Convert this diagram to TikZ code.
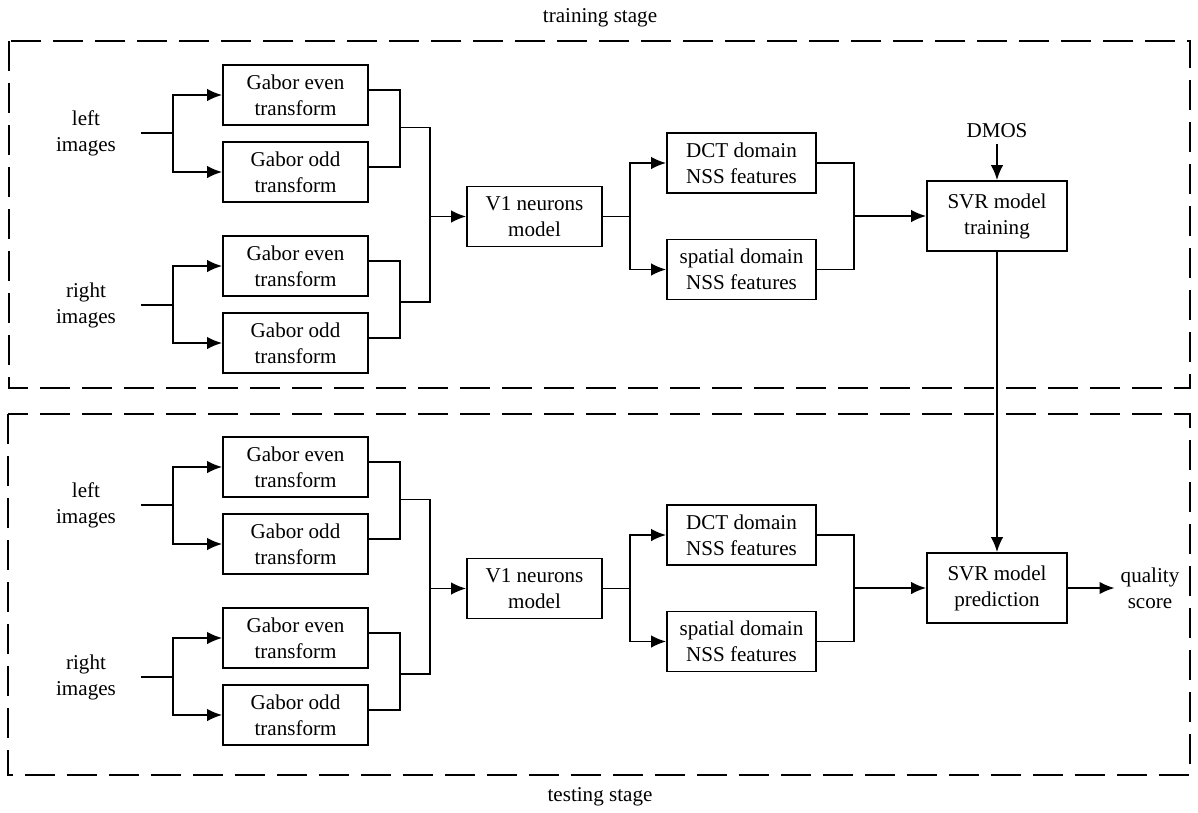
\documentclass[tikz,border=0pt]{standalone}
\usepackage{fontspec}
\setmainfont{Liberation Serif}
\usepackage{tikz}
\usetikzlibrary{arrows.meta,calc,positioning}

\tikzset{
  blk/.style={draw, line width=1pt, minimum width=2.9cm, minimum height=1.2cm,
    align=center, inner sep=1pt, font=\fontsize{12}{14.8}\selectfont},
  lbl/.style={align=center, font=\fontsize{12}{14.8}\selectfont},
  wire/.style={line width=1pt},
  arr/.style={-{Latex[length=3mm,width=2.5mm]}, line width=1pt},
  stage/.style={dash pattern=on 6mm off 2.4mm, line width=1pt}
}

\begin{document}
\begin{tikzpicture}
        \useasboundingbox (0,0) rectangle (23.96,-16.24);
        % Stage frames
        \draw[stage] (0.18,-0.82) rectangle (23.8,-7.76);
        \draw[stage] (0.16,-8.28) rectangle (23.8,-15.5);
        \node[lbl] (trn) at (12.0,-0.36) {training stage};
        \node[lbl] (tst) at (12.0,-15.94) {testing stage};
        % ---------------- training stage ----------------
        \node[lbl] (tleft) at (1.72,-2.66) {left\\images};
        \node[lbl] (tright) at (1.72,-6.1) {right\\images};
        \node[blk] (tge1) at (5.91,-1.9) {Gabor even\\transform};
        \node[blk] (tgo1) at (5.91,-3.44) {Gabor odd\\transform};
        \node[blk] (tge2) at (5.91,-5.32) {Gabor even\\transform};
        \node[blk] (tgo2) at (5.91,-6.86) {Gabor odd\\transform};
        \node[blk, minimum width=2.7cm] (tv1) at (10.69,-4.33) {V1 neurons\\model};
        \node[blk, minimum width=2.98cm] (tdct) at (14.83,-3.26) {DCT domain\\NSS features};
        \node[blk, minimum width=2.98cm] (tspa) at (14.83,-5.39) {spatial domain\\NSS features};
        \node[blk, minimum width=2.8cm, minimum height=1.4cm] (tsvr) at (19.94,-4.32) {SVR model\\training};
        \node[lbl] (dmos) at (19.94,-2.62) {DMOS};
        \coordinate (tin1) at (2.82,-2.66);
        \coordinate (tin2) at (2.82,-6.1);
        % inputs to Gabor filters
        \draw[wire] (tin1) -- (3.46,-2.66);
        \draw[arr] (3.46,-2.66) |- (tge1.west);
        \draw[arr] (3.46,-2.66) |- (tgo1.west);
        \draw[wire] (tin2) -- (3.46,-6.1);
        \draw[arr] (3.46,-6.1) |- (tge2.west);
        \draw[arr] (3.46,-6.1) |- (tgo2.west);
        % merge into V1 model
        \draw[wire] ([yshift=1mm]tge1.east) -| (8.0,-2.55) |- ([yshift=1mm]tgo1.east);
        \draw[wire] ([yshift=1mm]tge2.east) -| (8.0,-6.0) |- ([yshift=1mm]tgo2.east);
        \draw[wire] (8.0,-2.55) -| (8.6,-6.04) -- (8.0,-6.04);
        \draw[arr] (8.6,-4.33) -- (tv1.west);
        % NSS features
        \draw[wire] (tv1.east) -- (12.6,-4.33);
        \draw[arr] (12.6,-4.33) |- (tdct.west);
        \draw[arr] (12.6,-4.33) |- (tspa.west);
        \draw[wire] (tdct.east) -| (17.08,-4.32) |- (tspa.east);
        \draw[arr] (17.08,-4.32) -- (tsvr.west);
        \draw[arr] (dmos.south) -- (tsvr.north);
        % ---------------- testing stage ----------------
        \node[lbl] (bleft) at (1.72,-10.1) {left\\images};
        \node[lbl] (bright) at (1.72,-13.54) {right\\images};
        \node[blk] (bge1) at (5.91,-9.34) {Gabor even\\transform};
        \node[blk] (bgo1) at (5.91,-10.88) {Gabor odd\\transform};
        \node[blk] (bge2) at (5.91,-12.76) {Gabor even\\transform};
        \node[blk] (bgo2) at (5.91,-14.3) {Gabor odd\\transform};
        \node[blk, minimum width=2.7cm] (bv1) at (10.69,-11.77) {V1 neurons\\model};
        \node[blk, minimum width=2.98cm] (bdct) at (14.83,-10.7) {DCT domain\\NSS features};
        \node[blk, minimum width=2.98cm] (bspa) at (14.83,-12.83) {spatial domain\\NSS features};
        \node[blk, minimum width=2.8cm, minimum height=1.4cm] (bsvr) at (19.94,-11.76) {SVR model\\prediction};
        \node[lbl] (qual) at (23.0,-11.76) {quality\\score};
        \coordinate (bin1) at (2.82,-10.1);
        \coordinate (bin2) at (2.82,-13.54);
        % inputs to Gabor filters
        \draw[wire] (bin1) -- (3.46,-10.1);
        \draw[arr] (3.46,-10.1) |- (bge1.west);
        \draw[arr] (3.46,-10.1) |- (bgo1.west);
        \draw[wire] (bin2) -- (3.46,-13.54);
        \draw[arr] (3.46,-13.54) |- (bge2.west);
        \draw[arr] (3.46,-13.54) |- (bgo2.west);
        % merge into V1 model
        \draw[wire] ([yshift=1mm]bge1.east) -| (8.0,-9.99) |- ([yshift=1mm]bgo1.east);
        \draw[wire] ([yshift=1mm]bge2.east) -| (8.0,-13.44) |- ([yshift=1mm]bgo2.east);
        \draw[wire] (8.0,-9.99) -| (8.6,-13.48) -- (8.0,-13.48);
        \draw[arr] (8.6,-11.77) -- (bv1.west);
        % NSS features
        \draw[wire] (bv1.east) -- (12.6,-11.77);
        \draw[arr] (12.6,-11.77) |- (bdct.west);
        \draw[arr] (12.6,-11.77) |- (bspa.west);
        \draw[wire] (bdct.east) -| (17.08,-11.76) |- (bspa.east);
        \draw[arr] (17.08,-11.76) -- (bsvr.west);
        \draw[arr] (bsvr.east) -- (qual.west);
        % trained model feeds the prediction
        \draw[arr] (tsvr.south) -- (bsvr.north);
\end{tikzpicture}
\end{document}
